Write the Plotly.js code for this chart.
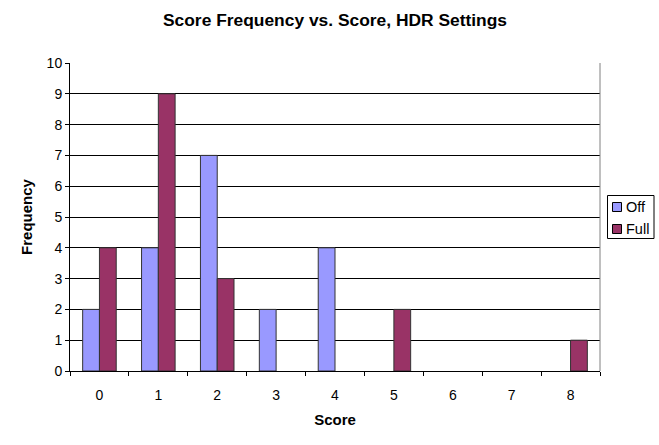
<!DOCTYPE html>
<html><head><meta charset="utf-8">
<script src="https://cdn.plot.ly/plotly-3.0.1.min.js"></script>
<style>html,body{margin:0;padding:0;background:#fff}#chart{width:659px;height:445px}</style>
</head><body><div id="chart"></div>
<script>
var scores = ["0","1","2","3","4","5","6","7","8"];
var offFreq = [2,4,7,2,4,0,0,0,0];
var fullFreq = [4,9,3,0,0,2,0,0,1];
var seriesNames = ["Off","Full"];
var seriesColors = ["#9999FF","#993366"];
var yTicks = [0,1,2,3,4,5,6,7,8,9,10];

var font = "Arial, 'Liberation Sans', sans-serif";
var traces = [offFreq, fullFreq].map(function(v,i){
  return {type:"bar", x:scores, y:v, name:seriesNames[i],
    marker:{color:seriesColors[i], line:{color:"#333", width:v.map(function(d){return d>0?1:0;})}}, showlegend:false};
});

function px(x){return (x-70)/530;}
function py(y){return (371-y)/308;}
var shapes = [
  {type:"line", xref:"paper", yref:"paper", x0:1, x1:1, y0:0, y1:1, line:{color:"#808080", width:1}},
  {type:"rect", xref:"paper", yref:"paper", x0:px(607.5), x1:px(654), y0:py(238.5), y1:py(195.5), line:{color:"#000", width:1}, fillcolor:"#fff"}
];
var annotations = [];
seriesNames.forEach(function(n,i){
  var yc = 207 + i*22;
  shapes.push({type:"rect", xref:"paper", yref:"paper", x0:px(612.5), x1:px(621.5), y0:py(yc+4.5), y1:py(yc-4.5),
    line:{color:"#000", width:1}, fillcolor:seriesColors[i]});
  annotations.push({xref:"paper", yref:"paper", x:px(623.5), y:py(yc), xanchor:"left", yanchor:"middle",
    text:n, showarrow:false, font:{family:font, size:14.5, color:"#000"}});
});

var layout = {
  width:659, height:445,
  margin:{l:70, r:59, t:63, b:74},
  paper_bgcolor:"#fff", plot_bgcolor:"#fff",
  title:{text:"<b>Score Frequency vs. Score, HDR Settings</b>", x:0.5, xref:"paper", y:1-20/445, yanchor:"middle",
    font:{family:font, size:17.4, color:"#000"}},
  barmode:"group", bargap:0.43, bargroupgap:0,
  xaxis:{type:"category", tickson:"boundaries", ticks:"outside", ticklen:4, tickcolor:"#000",
    ticklabelstandoff:11,
    showline:true, linecolor:"#000", linewidth:1, showgrid:false, zeroline:false,
    tickfont:{family:font, size:14, color:"#000"},
    title:{text:"<b>Score</b>", font:{family:font, size:15, color:"#000"}, standoff:12}},
  yaxis:{range:[0,10], tickvals:yTicks, ticks:"outside", ticklen:4, tickcolor:"#000",
    showline:true, linecolor:"#000", linewidth:1, showgrid:true, gridcolor:"#000", gridwidth:1,
    zeroline:false, tickfont:{family:font, size:14, color:"#000"},
    title:{text:"<b>Frequency</b>", font:{family:font, size:15, color:"#000"}, standoff:10}},
  shapes:shapes, annotations:annotations
};
Plotly.newPlot("chart", traces, layout, {displayModeBar:false, staticPlot:true});
</script></body></html>
